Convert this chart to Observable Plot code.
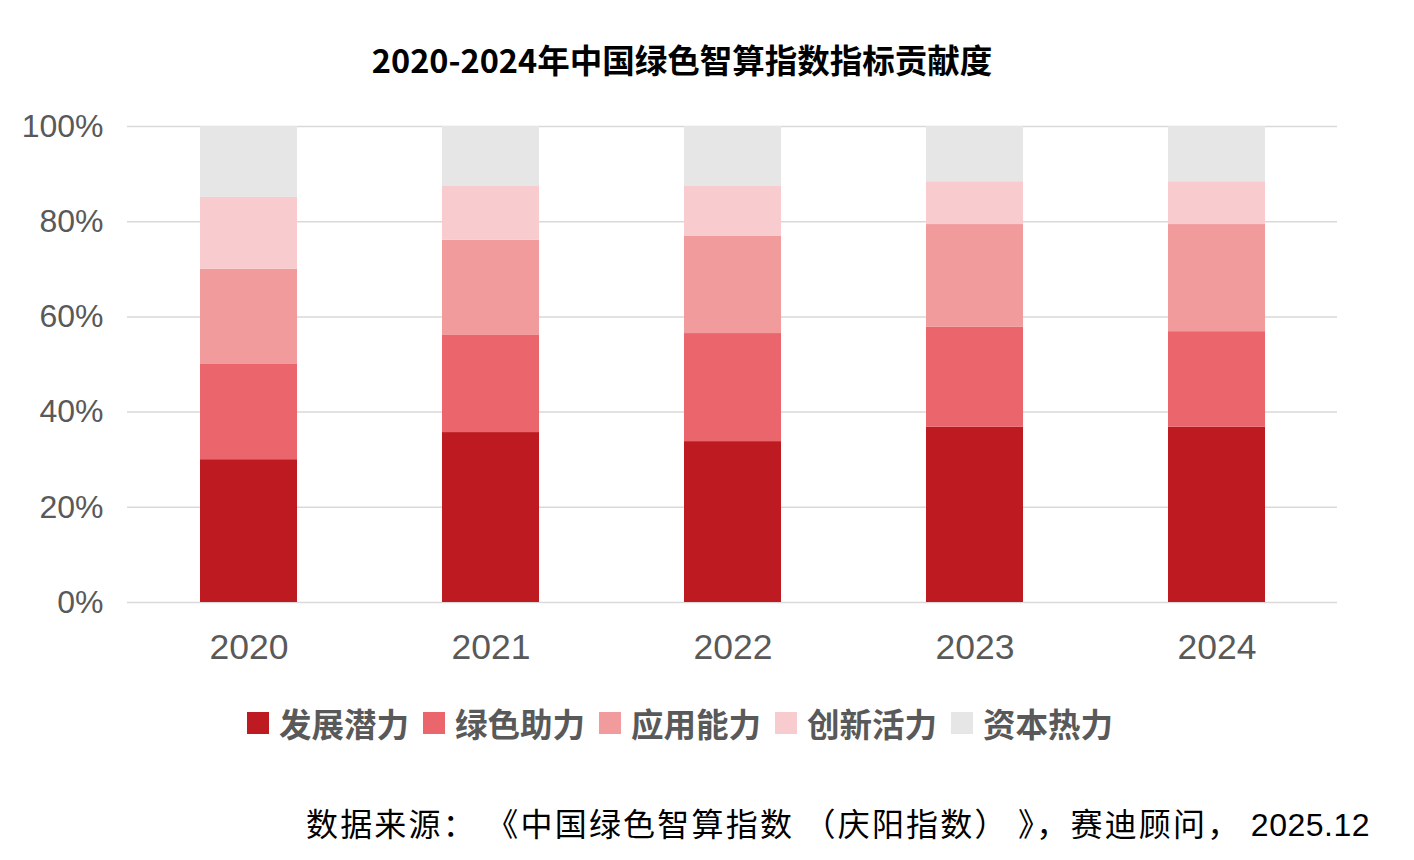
<!DOCTYPE html>
<html>
<head>
<meta charset="utf-8">
<script src="https://cdn.jsdelivr.net/npm/d3@7"></script>
<script src="https://cdn.jsdelivr.net/npm/@observablehq/plot@0.6"></script>
<style>
  html, body { margin: 0; padding: 0; background: #fff; }
  #wrap { position: relative; width: 1414px; height: 860px; overflow: hidden; font-family: "Noto Sans CJK SC", "Noto Sans", sans-serif; }
  #title { position: absolute; left: 0; width: 1364px; top: 39px; line-height: 40px; text-align: center; font-size: 32.5px; font-weight: bold; color: #000; }
  #chart { position: absolute; left: 0; top: 100px; }
  #legend { position: absolute; left: 247px; top: 699px; display: flex; align-items: center; font-size: 32.5px; font-weight: bold; color: #595959; }
  .item { display: flex; align-items: center; margin-right: 14px; }
  .sw { width: 22px; height: 22px; margin-right: 10px; }
  #caption { position: absolute; right: 44px; top: 802px; line-height: 40px; font-size: 32px; letter-spacing: 2.2px; color: #000; white-space: pre; }
  #caption .num { font-family: "Liberation Sans", Arial, sans-serif; letter-spacing: 0.5px; }
</style>
</head>
<body>
<div id="wrap">
  <div id="title">2020-2024年中国绿色智算指数指标贡献度</div>
  <div id="chart"></div>
  <div id="legend"></div>
  <div id="caption">数据来源： 《中国绿色智算指数 （庆阳指数） 》，赛迪顾问， <span class="num">2025.12</span></div>
</div>
<script>
const years = ["2020", "2021", "2022", "2023", "2024"];
const seriesNames = ["发展潜力", "绿色助力", "应用能力", "创新活力", "资本热力"];
const seriesColors = ["#BE1A22", "#EA666C", "#F29B9D", "#F8CBCE", "#E6E6E6"];
const fazhan = [30.0, 35.7, 33.8, 36.8, 36.8];
const lvse   = [20.0, 20.4, 22.7, 21.0, 20.1];
const yingyong = [20.0, 20.0, 20.4, 21.6, 22.5];
const chuangxin = [15.1, 11.3, 10.5, 9.0, 9.0];
const ziben = [14.9, 12.6, 12.6, 11.6, 11.6];
const yTicks = [0, 20, 40, 60, 80, 100];

const seriesValues = [fazhan, lvse, yingyong, chuangxin, ziben];
const data = [];
seriesNames.forEach((s, i) => {
  years.forEach((yr, j) => data.push({ year: yr, series: s, value: seriesValues[i][j] }));
});

const chart = Plot.plot({
  width: 1414,
  height: 580,
  marginLeft: 127,
  marginRight: 77,
  marginTop: 26,
  marginBottom: 78,
  style: { color: "#595959", fontFamily: "'Liberation Sans', Arial, sans-serif", background: "transparent" },
  x: { domain: years, paddingInner: 0.6, paddingOuter: 0.3, label: null },
  y: { domain: [0, 100], label: null },
  color: { domain: seriesNames, range: seriesColors },
  marks: [
    Plot.gridY(yTicks, { stroke: "#D9D9D9", strokeOpacity: 1, strokeWidth: 1.5 }),
    Plot.barY(data, { x: "year", y: "value", fill: "series" }),
    Plot.axisY(yTicks, { tickSize: 0, tickPadding: 24, fontSize: 32, tickFormat: d => d + "%", label: null }),
    Plot.axisX({ tickSize: 0, tickPadding: 31, fontSize: 35.5, label: null })
  ]
});
document.getElementById("chart").appendChild(chart);

const legend = document.getElementById("legend");
seriesNames.forEach((s, i) => {
  const item = document.createElement("div");
  item.className = "item";
  const sw = document.createElement("div");
  sw.className = "sw";
  sw.style.background = seriesColors[i];
  const t = document.createElement("span");
  t.textContent = s;
  item.appendChild(sw);
  item.appendChild(t);
  legend.appendChild(item);
});
</script>
</body>
</html>
